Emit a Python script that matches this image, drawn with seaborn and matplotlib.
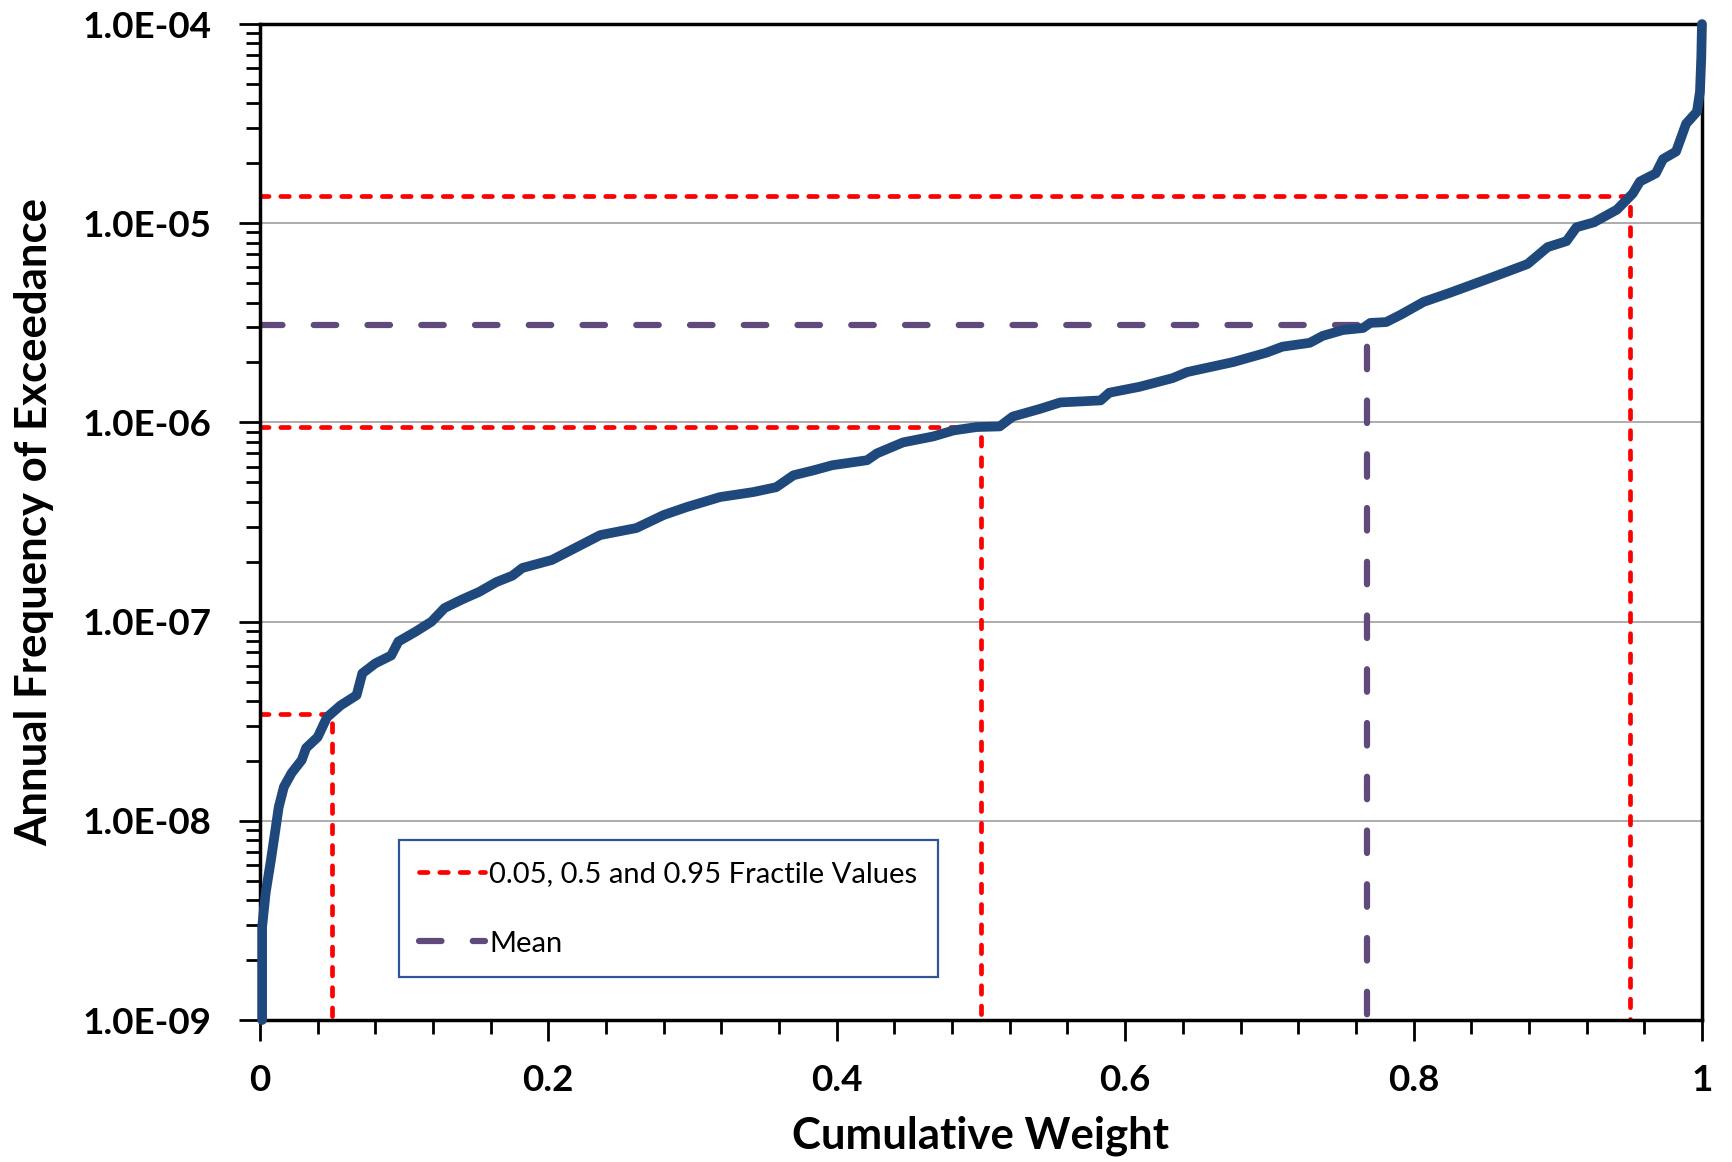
import numpy as np
import pandas as pd
import seaborn as sns
import matplotlib
matplotlib.use("Agg")
import matplotlib.pyplot as plt
from matplotlib.ticker import FuncFormatter, LogLocator, MultipleLocator, NullFormatter
from matplotlib.lines import Line2D

# ---------------- data ----------------
cum_weight = [0.0015, 0.0015, 0.004, 0.0076, 0.011, 0.013, 0.0166, 0.022, 0.029, 0.032,
              0.040, 0.0465, 0.056, 0.067, 0.071, 0.080, 0.091, 0.096, 0.108, 0.119,
              0.128, 0.140, 0.152, 0.164, 0.175, 0.182, 0.2025, 0.236, 0.261, 0.280,
              0.296, 0.319, 0.342, 0.358, 0.370, 0.384, 0.397, 0.421, 0.428, 0.446,
              0.467, 0.481, 0.497, 0.513, 0.522, 0.541, 0.555, 0.583, 0.589, 0.610,
              0.633, 0.643, 0.675, 0.698, 0.709, 0.728, 0.737, 0.751, 0.765, 0.770,
              0.781, 0.791, 0.807, 0.825, 0.855, 0.879, 0.893, 0.906, 0.913, 0.925,
              0.941, 0.952, 0.957, 0.968, 0.973, 0.982, 0.989, 0.9965, 0.9986, 0.9995,
              1.0]
annual_freq = [1.0e-9, 2.93e-9, 4.37e-9, 6.35e-9, 9.3e-9, 1.17e-8, 1.48e-8, 1.74e-8, 2.02e-8, 2.32e-8,
               2.63e-8, 3.31e-8, 3.80e-8, 4.27e-8, 5.50e-8, 6.17e-8, 6.76e-8, 7.94e-8, 8.91e-8, 1.0e-7,
               1.17e-7, 1.29e-7, 1.41e-7, 1.58e-7, 1.70e-7, 1.86e-7, 2.04e-7, 2.72e-7, 2.95e-7, 3.43e-7,
               3.76e-7, 4.22e-7, 4.47e-7, 4.73e-7, 5.43e-7, 5.75e-7, 6.10e-7, 6.46e-7, 7.0e-7, 7.94e-7,
               8.51e-7, 9.12e-7, 9.48e-7, 9.55e-7, 1.07e-6, 1.17e-6, 1.26e-6, 1.29e-6, 1.41e-6, 1.51e-6,
               1.67e-6, 1.79e-6, 2.01e-6, 2.24e-6, 2.40e-6, 2.51e-6, 2.72e-6, 2.91e-6, 2.98e-6, 3.16e-6,
               3.19e-6, 3.47e-6, 4.03e-6, 4.47e-6, 5.37e-6, 6.24e-6, 7.59e-6, 8.13e-6, 9.55e-6, 1.01e-5,
               1.17e-5, 1.41e-5, 1.62e-5, 1.78e-5, 2.10e-5, 2.29e-5, 3.16e-5, 3.63e-5, 4.57e-5, 6.76e-5,
               1.0e-4]

fractile_levels = [0.05, 0.5, 0.95]
fractile_values = [3.44e-8, 9.5e-7, 1.37e-5]
mean_weight = 0.7675
mean_value = 3.08e-6

x_tick_values = [0, 0.2, 0.4, 0.6, 0.8, 1.0]
x_tick_labels = ["0", "0.2", "0.4", "0.6", "0.8", "1"]
y_tick_values = [1e-9, 1e-8, 1e-7, 1e-6, 1e-5, 1e-4]

legend_labels = ["0.05, 0.5 and 0.95 Fractile Values", "Mean"]
x_title = "Cumulative Weight"
y_title = "Annual Frequency of Exceedance"

# ---------------- styling ----------------
curve_color = "#1F497D"
fractile_color = "#FF0000"
mean_color = "#604A7B"

sns.set_theme(style="white")
plt.rcParams['font.family'] = ['Lato', 'DejaVu Sans']

fig = plt.figure(figsize=(17.33, 11.62), dpi=100)
ax = fig.add_axes([0.1500, 0.1222, 0.8321, 0.8571])

y_floor = y_tick_values[0]

# fractile reference lines
for lvl, val in zip(fractile_levels, fractile_values):
    ax.plot([0, lvl, lvl], [val, val, y_floor], color=fractile_color, lw=3.4,
            linestyle=(0, (1.8, 2.5)), dash_capstyle="round", zorder=2)

# mean reference line
ax.plot([0, mean_weight, mean_weight], [mean_value, mean_value, y_floor],
        color=mean_color, lw=4.5, linestyle=(0, (3.6, 5.0)),
        dash_capstyle="round", zorder=2)

# main curve
df = pd.DataFrame({"weight": cum_weight, "freq": annual_freq})
sns.lineplot(data=df, x="weight", y="freq", sort=False, estimator=None,
             color=curve_color, lw=7, ax=ax, zorder=3,
             solid_capstyle="round", solid_joinstyle="round")
ax.lines[-1].set_clip_on(False)

ax.set_yscale("log")
ax.set_xlim(0, 1)
ax.set_ylim(y_tick_values[0], y_tick_values[-1])

ax.set_xticks(x_tick_values)
ax.set_xticklabels(x_tick_labels)
ax.xaxis.set_minor_locator(MultipleLocator(0.04))
ax.set_yticks(y_tick_values)
ax.yaxis.set_major_formatter(FuncFormatter(lambda v, p: f"{v:.1E}"))
ax.yaxis.set_minor_locator(LogLocator(base=10, subs=np.arange(2, 10)))
ax.yaxis.set_minor_formatter(NullFormatter())

ax.tick_params(axis="both", which="major", direction="out", length=15, width=2,
               color="black", labelsize=26.5, labelcolor="black")
ax.tick_params(axis="x", which="major", pad=17)
ax.tick_params(axis="y", which="major", pad=20)
ax.tick_params(axis="both", which="minor", direction="out", length=10, width=2,
               color="black")
ax.tick_params(axis="x", which="both", bottom=True)
ax.tick_params(axis="y", which="both", left=True)
for lab in ax.get_xticklabels() + ax.get_yticklabels():
    lab.set_fontweight("bold")

ax.grid(False)
ax.yaxis.grid(True, which="major", color="#A6A6A6", lw=1.3, zorder=0)
ax.set_axisbelow(True)

for sp in ax.spines.values():
    sp.set_visible(True)
    sp.set_color("black")
    sp.set_linewidth(2.5)

ax.set_xlabel(x_title, fontsize=31.5, fontweight="bold", color="black")
ax.set_ylabel(y_title, fontsize=31.5, fontweight="bold", color="black")
ax.xaxis.set_label_coords(0.5, -0.096)
ax.yaxis.set_label_coords(-0.1425, 0.5)

handles = [
    Line2D([], [], color=fractile_color, lw=3.4, linestyle=(0, (1.8, 2.5)),
           dash_capstyle="round"),
    Line2D([], [], color=mean_color, lw=4.5, linestyle=(0, (3.6, 5.0)),
           dash_capstyle="round"),
]
leg = ax.legend(handles, legend_labels, loc="lower left",
                bbox_to_anchor=(0.0964, 0.0432), borderaxespad=0,
                fontsize=21, handlelength=2.25, handletextpad=0.15,
                borderpad=0.7, labelspacing=1.5, fancybox=False,
                framealpha=1, edgecolor="#2F5597")
leg.get_frame().set_linewidth(1.6)
for t in leg.get_texts():
    t.set_color("black")

fig.savefig("out.png", dpi=100, facecolor="white")
